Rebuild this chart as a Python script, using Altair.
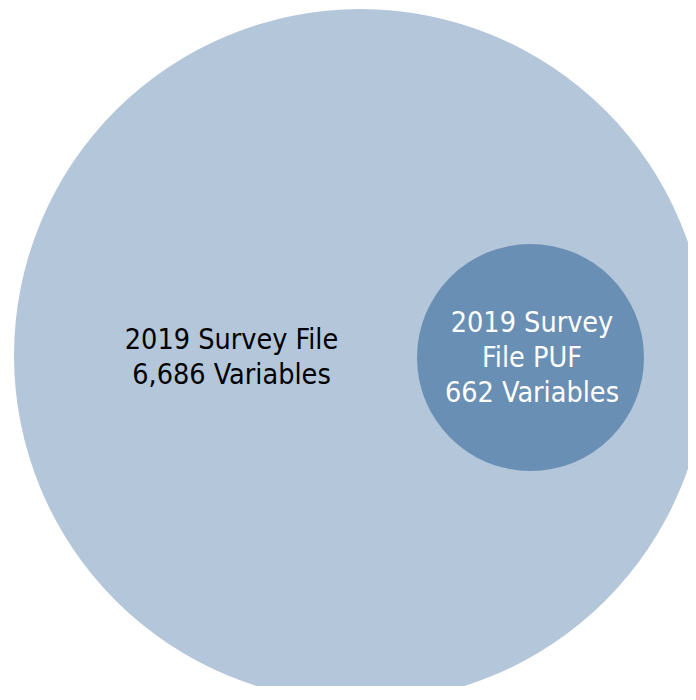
import altair as alt
import pandas as pd

# Data
names = ["2019 Survey File", "2019 Survey File PUF"]
variables = [6686, 662]
label_lines = [["2019 Survey File"], ["2019 Survey", "File PUF"]]

df = pd.DataFrame({
    "name": names,
    "variables": variables,
    "label": [lines + [f"{v:,} Variables"] for lines, v in zip(label_lines, variables)],
})

fills = ["#B4C6D9", "#6A8FB4"]
text_colors = ["#000000", "#FFFFFF"]
centers = [(352.5, 347.5), (522.5, 349.5)]
text_centers = [(223.5, 332.3), (524.0, 315.1)]

# Vega circle symbol: radius = sqrt(size) / 2
size_scale = alt.Scale(domain=[662, 6686], range=[4 * 113.5 ** 2, 4 * 346.5 ** 2])

layers = []
for i, name in enumerate(names):
    sub = alt.Chart(df).transform_filter(alt.datum.name == name)
    layers.append(
        sub.mark_circle(opacity=1, color=fills[i]).encode(
            x=alt.value(centers[i][0]),
            y=alt.value(centers[i][1]),
            size=alt.Size("variables:Q", scale=size_scale, legend=None),
        )
    )
for i, name in enumerate(names):
    sub = alt.Chart(df).transform_filter(alt.datum.name == name)
    layers.append(
        sub.mark_text(
            font="DejaVu Sans Condensed",
            fontSize=28.5,
            lineHeight=35,
            align="center",
            baseline="middle",
            color=text_colors[i],
        ).encode(
            x=alt.value(text_centers[i][0]),
            y=alt.value(text_centers[i][1]),
            text="label",
        )
    )

chart = alt.layer(*layers).properties(
    width=680,
    height=678,
    autosize=alt.AutoSizeParams(type="none"),
    padding=0,
    background="white",
).configure_view(stroke=None)

chart.save("out.html", embed_options={"renderer": "svg", "actions": False})
